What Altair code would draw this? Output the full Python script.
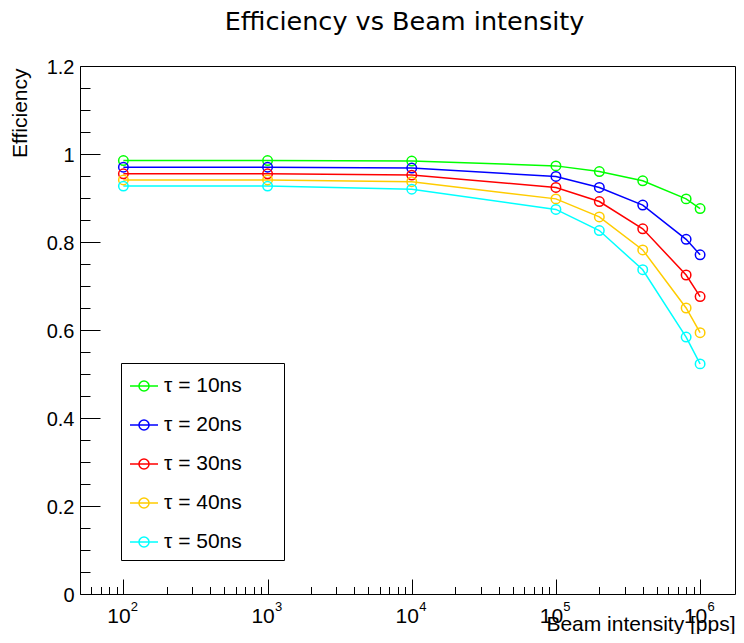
import altair as alt
import pandas as pd

FONT = "Liberation Sans"

intensity = [1e2, 1e3, 1e4, 1e5, 2e5, 4e5, 8e5, 1e6]
eff_10 = [0.985, 0.985, 0.984, 0.973, 0.960, 0.939, 0.898, 0.876]
eff_20 = [0.970, 0.970, 0.968, 0.949, 0.924, 0.884, 0.806, 0.771]
eff_30 = [0.955, 0.955, 0.952, 0.924, 0.892, 0.830, 0.725, 0.676]
eff_40 = [0.941, 0.941, 0.937, 0.898, 0.857, 0.782, 0.650, 0.594]
eff_50 = [0.927, 0.927, 0.920, 0.874, 0.826, 0.737, 0.584, 0.523]
series_names = ["τ = 10ns", "τ = 20ns", "τ = 30ns", "τ = 40ns", "τ = 50ns"]
series_colors = ["#00ff00", "#0000ff", "#ff0000", "#ffcc00", "#00ffff"]

y_major = [0, 0.2, 0.4, 0.6, 0.8, 1.0, 1.2]
y_minor = [0.05, 0.1, 0.15, 0.25, 0.3, 0.35, 0.45, 0.5, 0.55, 0.65, 0.7, 0.75,
           0.85, 0.9, 0.95, 1.05, 1.1, 1.15]
x_major = [1e2, 1e3, 1e4, 1e5, 1e6]
x_minor = [60, 70, 80, 90,
           200, 300, 400, 500, 600, 700, 800, 900,
           2e3, 3e3, 4e3, 5e3, 6e3, 7e3, 8e3, 9e3,
           2e4, 3e4, 4e4, 5e4, 6e4, 7e4, 8e4, 9e4,
           2e5, 3e5, 4e5, 5e5, 6e5, 7e5, 8e5, 9e5]

rows = []
for name, vals in zip(series_names, [eff_10, eff_20, eff_30, eff_40, eff_50]):
    for xv, yv in zip(intensity, vals):
        rows.append({"x": xv, "y": yv, "series": name})
df = pd.DataFrame(rows)

PLOT_W = 655
PLOT_H = 528
xscale = alt.Scale(type="log", domain=[50, 1.746e6])
yscale = alt.Scale(domain=[0, 1.2])
cscale = alt.Scale(domain=series_names, range=series_colors)

# base "10" labels with the axis title
x_major_axis = alt.Axis(values=x_major, orient="bottom", offset=-15, tickSize=15,
                        tickColor="black", tickWidth=1, domain=False, grid=False,
                        labelExpr="'10'", labelFont=FONT, labelFontSize=21,
                        labelColor="black", labelPadding=11, labelOffset=-5,
                        labelFlush=False, labelOverlap=False, labelBaseline="top",
                        title="Beam intensity [pps]", titleFont=FONT, titleFontSize=21,
                        titleFontWeight="normal", titleColor="black",
                        titleAlign="right", titleBaseline="alphabetic",
                        titleX=PLOT_W, titleY=51)
# exponents of the decade labels
x_exp_axis = alt.Axis(values=x_major, orient="bottom", ticks=False, tickSize=0,
                      domain=False, grid=False,
                      labelExpr="format(round(log(datum.value) / LN10), 'd')",
                      labelFont=FONT, labelFontSize=13, labelColor="black",
                      labelPadding=6.5, labelOffset=10.5, labelFlush=False,
                      labelOverlap=False, labelBaseline="top", title=None)
x_minor_axis = alt.Axis(values=x_minor, orient="bottom", offset=-7.5, tickSize=7.5,
                        tickColor="black", tickWidth=1, domain=False, grid=False,
                        labels=False, title=None)
y_major_axis = alt.Axis(values=y_major, orient="left", offset=-20, tickSize=20,
                        tickColor="black", tickWidth=1, domain=False, grid=False,
                        format="~g", labelFont=FONT, labelFontSize=20, labelColor="black",
                        labelPadding=6, labelOffset=1.5, labelFlush=False,
                        labelOverlap=False,
                        title="Efficiency", titleFont=FONT, titleFontSize=21,
                        titleFontWeight="normal", titleColor="black",
                        titleAngle=270, titleAlign="right", titleBaseline="alphabetic",
                        titleX=-74, titleY=2)
y_minor_axis = alt.Axis(values=y_minor, orient="left", offset=-10, tickSize=10,
                        tickColor="black", tickWidth=1, domain=False, grid=False,
                        labels=False, title=None)

symbol_path = "M-1,0L1,0M-0.36,0A0.36,0.36 0 1,1 0.36,0A0.36,0.36 0 1,1 -0.36,0"

legend = alt.Legend(orient="none", legendX=41, legendY=297,
                    title=" ", titleOrient="right", titlePadding=34,
                    titleFontSize=21, titleFont=FONT,
                    symbolType=symbol_path, symbolSize=784, symbolStrokeWidth=1.5,
                    symbolFillColor="transparent",
                    labelFont=FONT, labelFontSize=21, labelColor="black", labelOffset=5,
                    padding=8, rowPadding=14, strokeColor="black", fillColor="white",
                    labelLimit=400)

base = alt.Chart(df)

lines = base.mark_line(strokeWidth=1.5).encode(
    x=alt.X("x:Q", scale=xscale, axis=x_major_axis),
    y=alt.Y("y:Q", scale=yscale, axis=y_major_axis),
    color=alt.Color("series:N", scale=cscale, legend=legend),
    detail="series:N",
)

points = base.mark_point(filled=False, size=90, strokeWidth=1.5, opacity=1).encode(
    x=alt.X("x:Q", scale=xscale, axis=x_minor_axis),
    y=alt.Y("y:Q", scale=yscale, axis=y_minor_axis),
    color=alt.Color("series:N", scale=cscale, legend=legend),
)

exps = base.mark_point(opacity=0).encode(
    x=alt.X("x:Q", scale=xscale, axis=x_exp_axis),
    y=alt.Y("y:Q", scale=yscale, axis=None),
)

chart = alt.layer(lines, points, exps).resolve_axis(
    x="independent", y="independent"
).properties(
    width=PLOT_W, height=PLOT_H,
    autosize=alt.AutoSizeParams(type="none"),
    padding={"left": 72, "top": 58, "right": 1, "bottom": 40},
    title=alt.TitleParams("Efficiency vs Beam intensity", font="DejaVu Sans",
                          fontSize=25.5, fontWeight="normal", color="black",
                          anchor="middle", dx=-3, offset=22),
).configure_view(stroke="black", strokeWidth=1)

chart.save("out.html", embed_options={"renderer": "svg", "actions": False})
